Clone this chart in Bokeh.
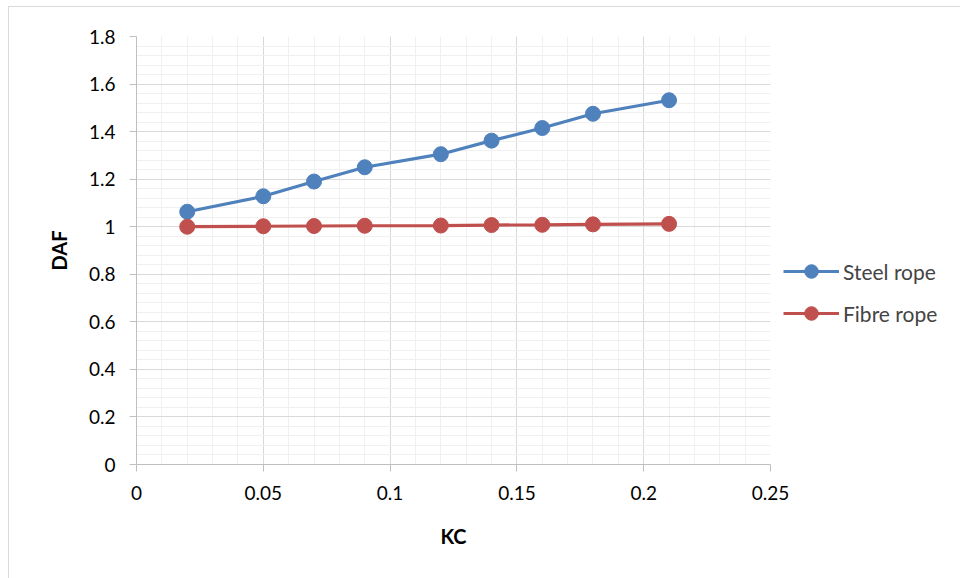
from bokeh.plotting import figure
from bokeh.models import FixedTicker, Legend, LegendItem, Range1d
from bokeh.embed import file_html
from bokeh.resources import INLINE

kc = [0.02, 0.05, 0.07, 0.09, 0.12, 0.14, 0.16, 0.18, 0.21]
steel = [1.063, 1.128, 1.19, 1.25, 1.305, 1.362, 1.415, 1.475, 1.532]
fibre = [1.0, 1.002, 1.003, 1.004, 1.005, 1.007, 1.008, 1.010, 1.012]

x_ticks = [0, 0.05, 0.1, 0.15, 0.2, 0.25]
x_labels = ["0", "0.05", "0.1", "0.15", "0.2", "0.25"]
y_ticks = [0, 0.2, 0.4, 0.6, 0.8, 1.0, 1.2, 1.4, 1.6, 1.8]
y_labels = ["0", "0.2", "0.4", "0.6", "0.8", "1", "1.2", "1.4", "1.6", "1.8"]
x_minor = [round(i * 0.01, 2) for i in range(26)]
y_minor = [round(i * 0.04, 2) for i in range(46)]

FONT = "Lato"
BLUE = "#4f81bd"
RED = "#c0504d"

p = figure(frame_width=634, frame_height=428, output_backend="svg", toolbar_location=None,
           x_range=Range1d(0, 0.25), y_range=Range1d(0, 1.8),
           min_border_left=127, min_border_right=181, min_border_top=29, min_border_bottom=118)
p.styles = {"border": "1px solid #d9d9d9", "margin-left": "8px", "margin-top": "6px"}
p.outline_line_color = None
p.background_fill_color = "white"
p.border_fill_color = "white"

p.xaxis.ticker = FixedTicker(ticks=x_ticks, minor_ticks=x_minor)
p.yaxis.ticker = FixedTicker(ticks=y_ticks, minor_ticks=y_minor)
p.xaxis.major_label_overrides = {t: l for t, l in zip(x_ticks, x_labels)}
p.yaxis.major_label_overrides = {t: l for t, l in zip(y_ticks, y_labels)}

for g in (p.xgrid, p.ygrid):
    g.grid_line_color = "#d9d9d9"
    g.grid_line_width = 1
    g.minor_grid_line_color = "#f0f0f0"
    g.minor_grid_line_width = 1

for ax in (p.xaxis, p.yaxis):
    ax.axis_line_color = "#bfbfbf"
    ax.major_tick_line_color = "#bfbfbf"
    ax.minor_tick_line_color = None
    ax.major_tick_out = 7
    ax.major_tick_in = 0
    ax.major_label_text_font = FONT
    ax.major_label_text_font_size = "19px"
    ax.major_label_text_color = "#000000"
    ax.axis_label_text_font = FONT
    ax.axis_label_text_font_size = "20px"
    ax.axis_label_text_font_style = "bold"
    ax.axis_label_text_color = "#000000"

p.xaxis.axis_label = "KC"
p.yaxis.axis_label = "DAF"
p.xaxis.major_label_standoff = 14
p.yaxis.major_label_standoff = 14
p.xaxis.axis_label_standoff = 21
p.yaxis.axis_label_standoff = 15

l1 = p.line(kc, steel, line_color=BLUE, line_width=3.2)
c1 = p.scatter(kc, steel, size=15, fill_color=BLUE, line_color=BLUE)
l2 = p.line(kc, fibre, line_color=RED, line_width=3.2)
c2 = p.scatter(kc, fibre, size=15, fill_color=RED, line_color=RED)

legend = Legend(items=[LegendItem(label="Steel rope", renderers=[l1, c1]),
                       LegendItem(label="Fibre rope", renderers=[l2, c2])],
                location=(13, 134))
legend.border_line_color = None
legend.background_fill_alpha = 0
legend.label_text_font = FONT
legend.label_text_font_size = "21px"
legend.glyph_width = 56
legend.glyph_height = 34
legend.spacing = 8
legend.label_standoff = 4
legend.margin = 0
legend.padding = 0
p.add_layout(legend, "right")

open("out.html", "w").write(file_html(p, INLINE))
